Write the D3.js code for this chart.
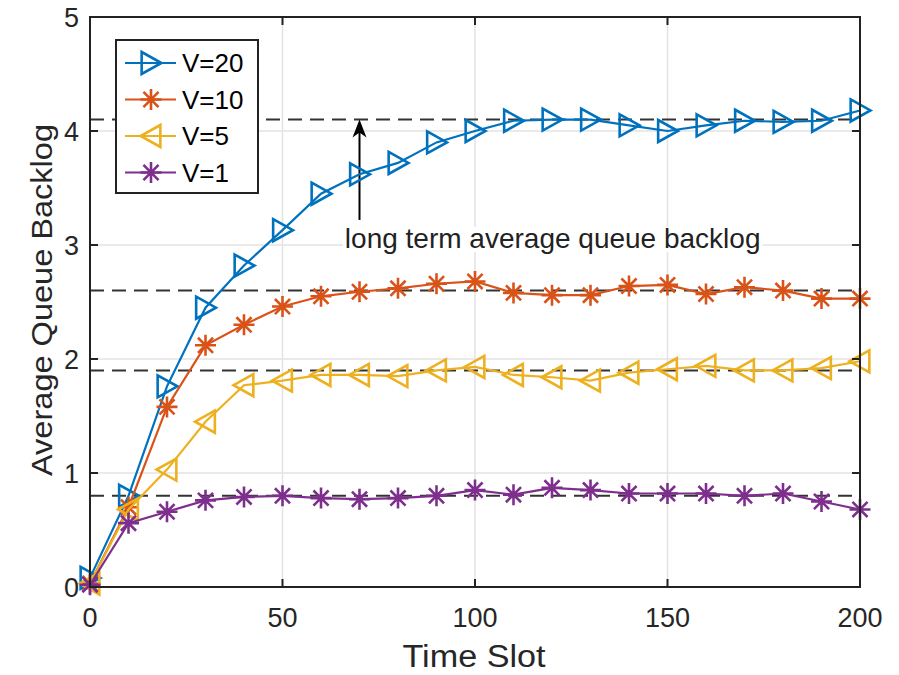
<!DOCTYPE html>
<html><head><meta charset="utf-8">
<script src="https://cdn.jsdelivr.net/npm/d3@7"></script>
<style>body{margin:0;background:#fff;} svg{display:block;}</style>
</head><body><svg id="c" width="899" height="675"></svg>
<script>
const timeSlots = [0,10,20,30,40,50,60,70,80,90,100,110,120,130,140,150,160,170,180,190,200];
const v20 = [0.08,0.8,1.76,2.45,2.82,3.13,3.45,3.62,3.72,3.9,4.0,4.09,4.1,4.1,4.05,4.0,4.05,4.09,4.08,4.09,4.18];
const v10 = [0.03,0.7,1.58,2.12,2.3,2.46,2.55,2.59,2.62,2.66,2.68,2.58,2.56,2.56,2.64,2.65,2.57,2.63,2.6,2.53,2.53];
const v5  = [0.03,0.68,1.03,1.45,1.77,1.81,1.86,1.86,1.85,1.9,1.93,1.86,1.84,1.81,1.88,1.91,1.94,1.9,1.9,1.92,1.98];
const v1  = [0.02,0.56,0.66,0.76,0.79,0.8,0.78,0.77,0.78,0.8,0.85,0.81,0.87,0.85,0.82,0.82,0.82,0.8,0.82,0.75,0.68];
const seriesNames = ["V=20","V=10","V=5","V=1"];
const seriesMarkers = ["triRight","star","triLeft","star"];
const seriesColors = ["#0072BD","#D95319","#EDB120","#7E2F8E"];
const longTermAvg = [4.1,2.6,1.9,0.8];
const xTicks = [0,50,100,150,200];
const yTicks = [0,1,2,3,4,5];
const annotationText = "long term average queue backlog";
const arrowX = 70, arrowFrom = 3.22, arrowTo = 4.1;

const allSeries = [v20,v10,v5,v1];
const svg = d3.select("#c");
const L=90, R=860, T=17, B=587;
const x = d3.scaleLinear().domain([0,200]).range([L,R]);
const y = d3.scaleLinear().domain([0,5]).range([B,T]);
const font = "'Liberation Sans', Arial, Helvetica, sans-serif";

// grid
const g = svg.append("g");
g.selectAll(".gx").data(xTicks).enter().append("line")
  .attr("x1",d=>x(d)).attr("x2",d=>x(d)).attr("y1",T).attr("y2",B)
  .attr("stroke","#e3e3e3").attr("stroke-width",1.5);
g.selectAll(".gy").data(yTicks).enter().append("line")
  .attr("y1",d=>y(d)).attr("y2",d=>y(d)).attr("x1",L).attr("x2",R)
  .attr("stroke","#e3e3e3").attr("stroke-width",1.5);

// annotation text with white background
const at = svg.append("text").attr("x",x(66.2)).attr("y",y(3)+3)
  .attr("font-family",font).attr("font-size",28).attr("fill","#222")
  .text(annotationText);
const bb = at.node().getBBox();
svg.insert("rect", "text").attr("x",bb.x-2).attr("y",bb.y+4).attr("width",bb.width+4).attr("height",bb.height-6)
  .attr("fill","#fff");

// dashed lines
svg.selectAll(".dash").data(longTermAvg).enter().append("line")
  .attr("x1",L).attr("x2",R).attr("y1",d=>y(d)).attr("y2",d=>y(d))
  .attr("stroke","#333").attr("stroke-width",2).attr("stroke-dasharray","14,8");

// arrow
svg.append("line").attr("x1",x(arrowX)).attr("x2",x(arrowX)).attr("y1",y(arrowFrom)).attr("y2",y(arrowTo)+8)
  .attr("stroke","#000").attr("stroke-width",2);
svg.append("path").attr("d",`M${x(arrowX)},${y(arrowTo)} l-7,18 l7,-5 l7,5 z`).attr("fill","#000");

function markerPath(type){
  const s=11;
  if(type==="triRight") return `M${-s*0.85},${-s} L${s*0.95},0 L${-s*0.85},${s} Z`;
  if(type==="triLeft") return `M${s*0.85},${-s} L${-s*0.95},0 L${s*0.85},${s} Z`;
  const r=10.5, d=r*0.72;
  return `M${-r},0 L${r},0 M0,${-r} L0,${r} M${-d},${-d} L${d},${d} M${-d},${d} L${d},${-d}`;
}

const line = d3.line().x((d,i)=>x(timeSlots[i])).y(d=>y(d));
allSeries.forEach((vals,k)=>{
  const sg = svg.append("g");
  sg.append("path").attr("d",line(vals)).attr("fill","none")
    .attr("stroke",seriesColors[k]).attr("stroke-width",2.2);
  sg.selectAll("path.m").data(vals).enter().append("path").attr("class","m")
    .attr("transform",(d,i)=>`translate(${x(timeSlots[i])},${y(d)})`)
    .attr("d",markerPath(seriesMarkers[k]))
    .attr("fill","none").attr("stroke",seriesColors[k]).attr("stroke-width",2.6);
});

// axes box
svg.append("rect").attr("x",L).attr("y",T).attr("width",R-L).attr("height",B-T)
  .attr("fill","none").attr("stroke","#222").attr("stroke-width",2);
// ticks
const tl=8;
xTicks.forEach(t=>{
  svg.append("line").attr("x1",x(t)).attr("x2",x(t)).attr("y1",B).attr("y2",B-tl).attr("stroke","#222").attr("stroke-width",2);
  svg.append("line").attr("x1",x(t)).attr("x2",x(t)).attr("y1",T).attr("y2",T+tl).attr("stroke","#222").attr("stroke-width",2);
});
yTicks.forEach(t=>{
  svg.append("line").attr("y1",y(t)).attr("y2",y(t)).attr("x1",L).attr("x2",L+tl).attr("stroke","#222").attr("stroke-width",2);
  svg.append("line").attr("y1",y(t)).attr("y2",y(t)).attr("x1",R).attr("x2",R-tl).attr("stroke","#222").attr("stroke-width",2);
});
// tick labels
svg.selectAll(".xl").data(xTicks).enter().append("text")
  .attr("x",d=>x(d)).attr("y",627).attr("text-anchor","middle")
  .attr("font-family",font).attr("font-size",27).attr("fill","#262626").text(d=>d);
svg.selectAll(".yl").data(yTicks).enter().append("text")
  .attr("x",79).attr("y",d=>y(d)+10).attr("text-anchor","end")
  .attr("font-family",font).attr("font-size",27).attr("fill","#262626").text(d=>d);
// axis labels
svg.append("text").attr("x",474).attr("y",667).attr("text-anchor","middle")
  .attr("font-family",font).attr("font-size",31).attr("fill","#262626").text("Time Slot")
  .attr("textLength",143).attr("lengthAdjust","spacingAndGlyphs");
svg.append("text").attr("transform",`translate(52,300) rotate(-90)`).attr("text-anchor","middle")
  .attr("font-family",font).attr("font-size",29).attr("fill","#262626").text("Average Queue Backlog")
  .attr("textLength",352).attr("lengthAdjust","spacingAndGlyphs");

// legend
const lg = svg.append("g");
lg.append("rect").attr("x",116).attr("y",40).attr("width",142).attr("height",153)
  .attr("fill","#fff").attr("stroke","#222").attr("stroke-width",2);
seriesNames.forEach((n,k)=>{
  const yy = 63 + k*36.5;
  lg.append("line").attr("x1",125).attr("x2",176).attr("y1",yy).attr("y2",yy)
    .attr("stroke",seriesColors[k]).attr("stroke-width",2.2);
  lg.append("path").attr("transform",`translate(151,${yy})`).attr("d",markerPath(seriesMarkers[k]))
    .attr("fill","none").attr("stroke",seriesColors[k]).attr("stroke-width",2.6);
  lg.append("text").attr("x",182).attr("y",yy+9).attr("font-family",font).attr("font-size",26)
    .attr("fill","#000").text(n);
});
</script></body></html>
